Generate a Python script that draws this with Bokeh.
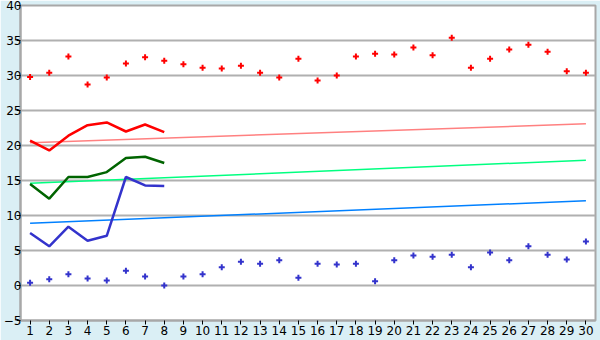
from bokeh.plotting import figure
from bokeh.models import FixedTicker, Range1d
from bokeh.embed import file_html
from bokeh.resources import INLINE

days = list(range(1, 31))
max_temp = [29.8, 30.4, 32.7, 28.7, 29.7, 31.7, 32.6, 32.1, 31.6, 31.1,
            31.0, 31.4, 30.4, 29.7, 32.4, 29.3, 30.0, 32.7, 33.1, 33.0,
            34.0, 32.9, 35.4, 31.1, 32.4, 33.7, 34.4, 33.4, 30.6, 30.4]
min_temp = [0.4, 0.9, 1.6, 1.0, 0.7, 2.1, 1.3, 0.0, 1.3, 1.6,
            2.6, 3.4, 3.1, 3.6, 1.1, 3.1, 3.0, 3.1, 0.6, 3.6,
            4.3, 4.1, 4.4, 2.6, 4.7, 3.6, 5.6, 4.4, 3.7, 6.3]
obs_days = [1, 2, 3, 4, 5, 6, 7, 8]
obs_high = [20.7, 19.3, 21.4, 22.9, 23.3, 22.0, 23.0, 21.9]
obs_mean = [14.5, 12.4, 15.5, 15.5, 16.2, 18.2, 18.4, 17.5]
obs_low = [7.5, 5.6, 8.4, 6.4, 7.1, 15.5, 14.3, 14.2]
trend_days = [1, 30]
trend_high = [20.4, 23.1]
trend_mean = [14.6, 17.9]
trend_low = [8.9, 12.1]
y_ticks = [-5, 0, 5, 10, 15, 20, 25, 30, 35, 40]

p = figure(width=600, height=340, output_backend="svg", toolbar_location=None,
           x_range=Range1d(0.5, 30.5), y_range=Range1d(-5, 40),
           min_border_left=0, min_border_right=5, min_border_top=5, min_border_bottom=20)

bg = "#DAEFF5"
p.border_fill_color = bg
p.background_fill_color = "white"
p.outline_line_color = "#A8A8A8"
p.outline_line_width = 2

p.xgrid.grid_line_color = None
p.ygrid.grid_line_color = "#B0B0B0"
p.ygrid.grid_line_width = 2
p.ygrid.ticker = FixedTicker(ticks=y_ticks)

for ax in (p.xaxis[0], p.yaxis[0]):
    ax.axis_line_color = "#A8A8A8"
    ax.axis_line_width = 2
    ax.major_tick_line_color = "black"
    ax.major_tick_in = 0
    ax.major_tick_out = 4
    ax.minor_tick_line_color = None
    ax.major_label_text_font = "DejaVu Sans"
    ax.major_label_text_font_size = "12px"
    ax.major_label_text_color = "black"
    ax.major_label_standoff = 1

p.yaxis.major_label_standoff = -5
p.xaxis.ticker = FixedTicker(ticks=days)
p.yaxis.ticker = FixedTicker(ticks=y_ticks)

p.line(trend_days, trend_high, line_color="#FF8080", line_width=1.5)
p.line(trend_days, trend_mean, line_color="#00FF80", line_width=1.5)
p.line(trend_days, trend_low, line_color="#0080FF", line_width=1.5)

p.line(obs_days, obs_high, line_color="#FF0000", line_width=2.5)
p.line(obs_days, obs_mean, line_color="#006400", line_width=2.5)
p.line(obs_days, obs_low, line_color="#3333CC", line_width=2.5)

p.scatter(days, max_temp, marker="cross", size=6, line_color="#FF0000", line_width=2)
p.scatter(days, min_temp, marker="cross", size=6, line_color="#3333CC", line_width=2)

open("out.html", "w").write(file_html(p, INLINE))
